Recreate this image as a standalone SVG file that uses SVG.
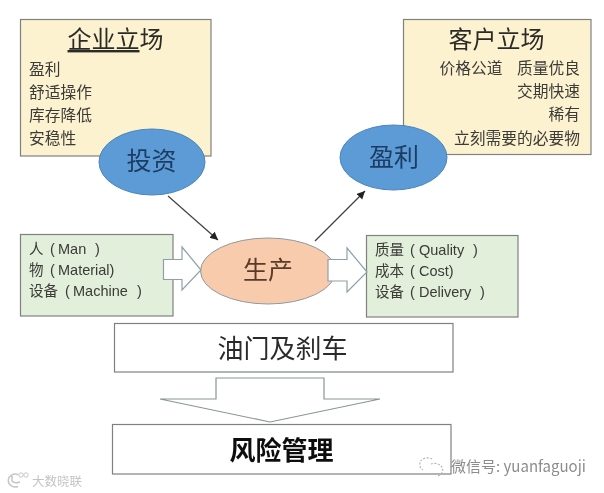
<svg xmlns="http://www.w3.org/2000/svg" width="604" height="493" viewBox="0 0 604 493">
<style>
text{font-family:"Noto Sans CJK SC","Liberation Sans",sans-serif;fill:#3a3a38}
.box{stroke:#7f8080;stroke-width:1.2}
.y{fill:#fdf2d0}.g{fill:#e2efda}.w{fill:#fff}
.s{font-size:15.75px}.t{font-size:24px;fill:#2b2b28}.m{font-size:25px;fill:#1f3d63}.r{text-anchor:end}
.e{font-size:14.5px;font-family:"Liberation Sans","Noto Sans CJK SC",sans-serif}
.blk{stroke:#8fa0a8;stroke-width:1.2;fill:#fff}
.ln{stroke:#404040;stroke-width:1.2;fill:none;marker-end:url(#a)}
.c{text-anchor:middle}
</style>
<defs>
<marker id="a" markerUnits="userSpaceOnUse" markerWidth="10" markerHeight="10" refX="8" refY="4" orient="auto"><path d="M0 0L8 4L0 8Z" fill="#222"/></marker>
<filter id="b" x="-5%" y="-5%" width="110%" height="110%"><feGaussianBlur stdDeviation="0.45"/></filter>
</defs>
<rect width="604" height="493" fill="#fff"/>
<g filter="url(#b)">
<g id="company">
<rect class="box y" x="20.5" y="19.500" width="190.500" height="136.500"/>
<text class="t c" x="115.500" y="48"><tspan text-decoration="underline">企业立</tspan>场</text>
<text class="s" x="29" y="75">盈利</text>
<text class="s" x="29" y="98">舒适操作</text>
<text class="s" x="29" y="121">库存降低</text>
<text class="s" x="29" y="144">安稳性</text>
</g>
<g id="customer">
<rect class="box y" x="403.500" y="19.500" width="187.500" height="135"/>
<text class="t c" x="496.500" y="48">客户立场</text>
<text class="s" x="439.500" y="74">价格公道</text>
<text class="s r" x="580" y="74">质量优良</text>
<text class="s r" x="580" y="97">交期快速</text>
<text class="s r" x="580" y="120">稀有</text>
<text class="s r" x="580" y="144">立刻需要的必要物</text>
</g>
<g id="invest"><ellipse cx="152" cy="162" rx="53" ry="33" fill="#5b9bd5" stroke="#4a86bd"/><text class="m c" x="151.500" y="170">投资</text></g>
<g id="profit"><ellipse cx="393.500" cy="157.500" rx="53.500" ry="32.500" fill="#5b9bd5" stroke="#4a86bd"/><text class="m c" x="394" y="166">盈利</text></g>
<g id="inputs">
<rect class="box g" x="20.500" y="234.500" width="152.500" height="81.500"/>
<text class="e" y="254"><tspan x="29">人</tspan><tspan x="50">(</tspan><tspan x="58">Man</tspan><tspan x="95">)</tspan></text>
<text class="e" y="275"><tspan x="29">物</tspan><tspan x="50">(</tspan><tspan x="58">Material)</tspan></text>
<text class="e" y="296"><tspan x="29">设备</tspan><tspan x="65">(</tspan><tspan x="73">Machine</tspan><tspan x="137">)</tspan></text>
</g>
<g id="outputs">
<rect class="box g" x="366.500" y="235.500" width="151.500" height="81.500"/>
<text class="e" y="255"><tspan x="375">质量</tspan><tspan x="410">(</tspan><tspan x="419">Quality</tspan><tspan x="473">)</tspan></text>
<text class="e" y="276"><tspan x="375">成本</tspan><tspan x="410">(</tspan><tspan x="419">Cost)</tspan></text>
<text class="e" y="297"><tspan x="375">设备</tspan><tspan x="410">(</tspan><tspan x="419">Delivery</tspan><tspan x="480">)</tspan></text>
</g>
<g id="production"><ellipse cx="268" cy="271" rx="67.500" ry="33" fill="#f8cbad" stroke="#8f9a9f"/><text class="m c" x="268" y="279" style="fill:#5a3a28">生产</text></g>
<g id="connectors">
<path class="ln" d="M168 196L218 240"/>
<path class="ln" d="M315 241L365 191"/>
<path class="blk" d="M163.500 259.500H182V247L201 270L182 290V279.500H163.500Z"/>
<path class="blk" d="M328 259.500H347V248L367 272L347 292V281H328Z"/>
<path d="M216 378H324V399H380L270 422L160 399H216Z" fill="#fff" stroke="#8a9498" stroke-width="1.200"/>
</g>
<g id="throttle"><rect class="box w" x="114.500" y="323.500" width="338.500" height="48.500"/><text class="c" x="282.500" y="358" style="font-size:26px;fill:#2b2b2b">油门及刹车</text></g>
<g id="risk"><rect class="box w" x="112.500" y="424.500" width="338.500" height="49.500"/><text class="c" x="281.500" y="460" style="font-size:26px;font-weight:700;fill:#111">风险管理</text></g>
<g id="watermarks">
<path d="M18 474.500A7 6.500 0 1 0 18 486.500M12 476V481Q14 484 20 482" fill="none" stroke="#c6c6c6" stroke-width="1.500"/>
<circle cx="21" cy="475" r="2.200" fill="none" stroke="#c6c6c6"/><circle cx="26" cy="475" r="2.200" fill="none" stroke="#c6c6c6"/>
<text x="32" y="486" style="font-size:12.500px;fill:#c4c4c4">大数晓联</text>
<path d="M432 459A7 6 0 1 0 423 470M431 464A8 6.500 0 1 1 438 476" fill="none" stroke="#b5b5b5" stroke-width="1.200" stroke-dasharray="2 1.500"/>
<text x="451" y="472" style="font-size:15px;fill:#8c8c8c">微信号: yuanfaguoji</text>
</g>
</g>
</svg>
